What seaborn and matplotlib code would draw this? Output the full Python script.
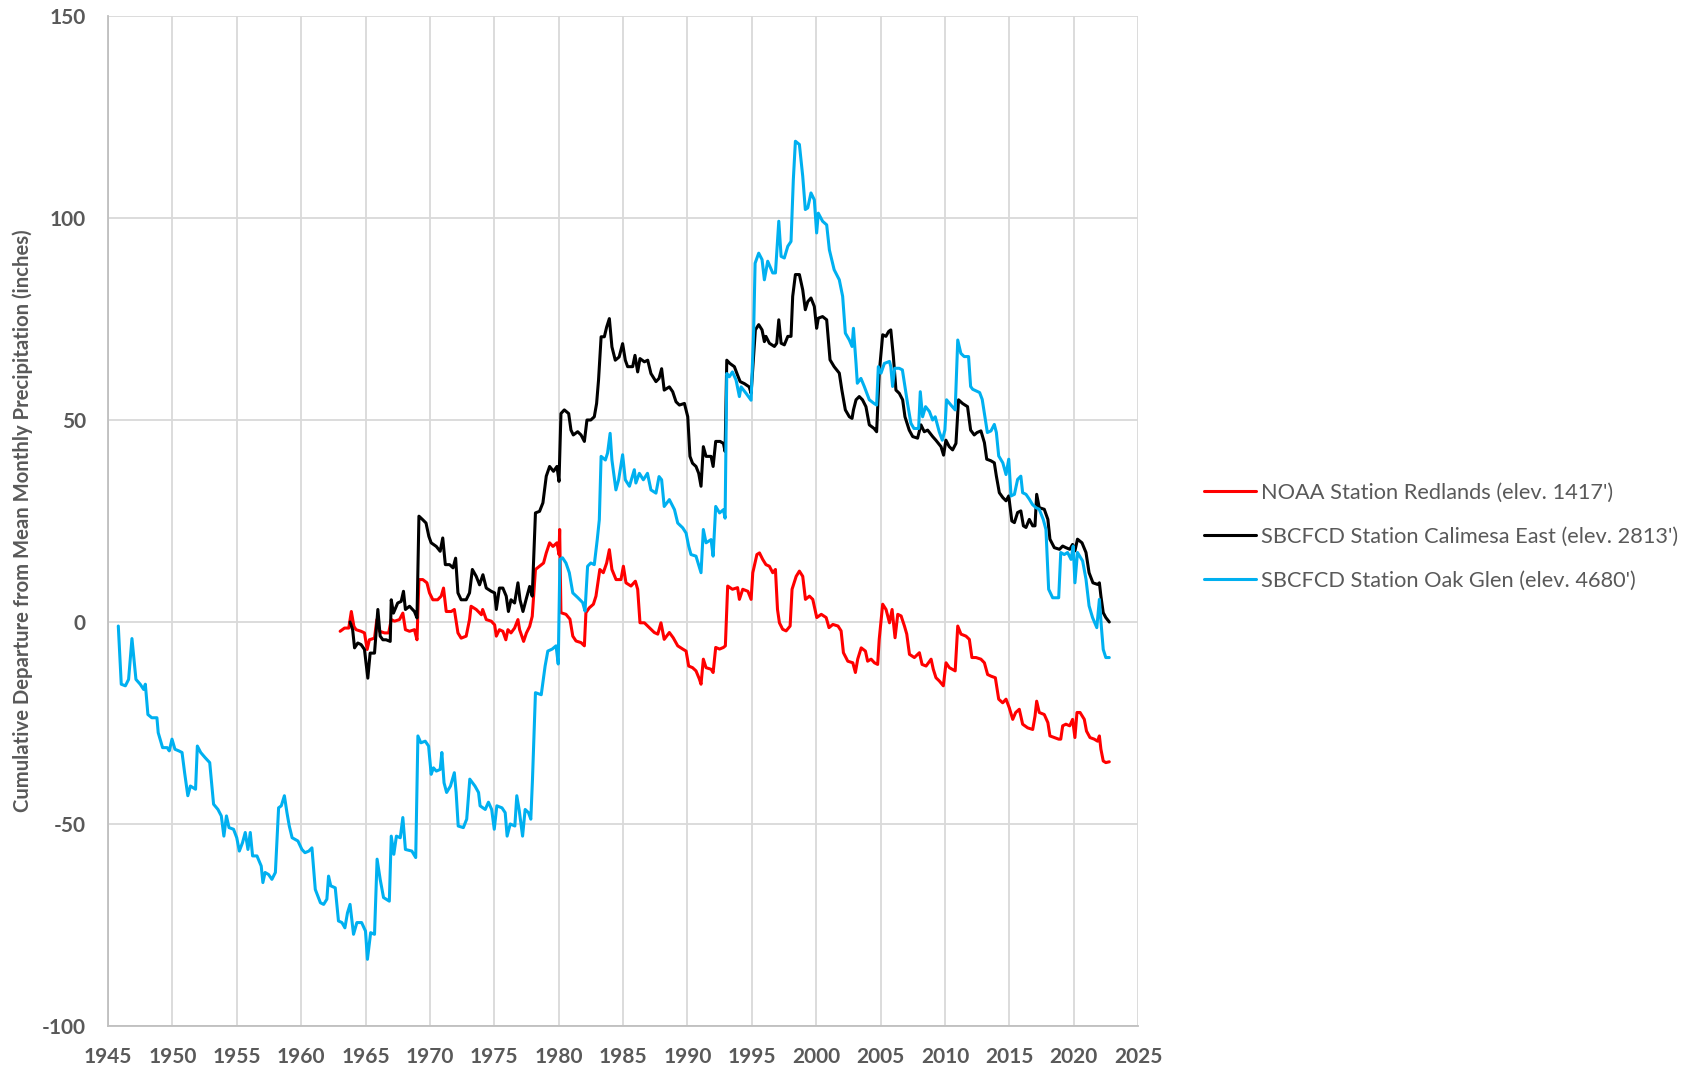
import matplotlib
matplotlib.use("Agg")
import matplotlib.pyplot as plt
import seaborn as sns
import pandas as pd
from matplotlib.ticker import MultipleLocator

# ---------------- data ----------------
redlands_year = [1963.03,1963.37,1963.7,1963.9,1964.1,1964.27,1964.66,1964.92,1965.13,1965.3,1965.7,1965.88,1966.09,1966.48,1966.8,1967.0,1967.25,1967.64,1967.9,1968.1,1968.42,1968.8,1969.0,1969.15,1969.45,1969.77,1969.97,1970.23,1970.6,1970.88,1971.06,1971.27,1971.66,1971.9,1972.18,1972.43,1972.82,1973.08,1973.2,1973.6,1974.0,1974.1,1974.38,1974.77,1975.03,1975.16,1975.4,1975.67,1975.9,1976.06,1976.3,1976.58,1976.84,1976.97,1977.28,1977.5,1977.75,1977.95,1978.2,1978.52,1978.83,1979.04,1979.3,1979.56,1979.87,1980.03,1980.08,1980.18,1980.57,1980.88,1981.1,1981.35,1981.74,1982.0,1982.12,1982.38,1982.7,1982.9,1983.2,1983.47,1983.73,1983.94,1984.14,1984.46,1984.84,1985.03,1985.23,1985.62,1985.96,1986.14,1986.32,1986.66,1987.05,1987.43,1987.7,1987.95,1988.2,1988.6,1988.9,1989.25,1989.64,1989.9,1990.1,1990.4,1990.67,1990.93,1991.06,1991.24,1991.45,1991.84,1992.0,1992.2,1992.5,1992.8,1992.95,1993.13,1993.5,1993.9,1994.04,1994.3,1994.7,1994.95,1995.08,1995.4,1995.6,1995.85,1996.1,1996.37,1996.63,1996.84,1997.0,1997.15,1997.4,1997.67,1997.98,1998.13,1998.45,1998.7,1998.96,1999.17,1999.48,1999.74,2000.05,2000.4,2000.78,2001.0,2001.3,2001.7,2001.94,2002.12,2002.46,2002.85,2003.05,2003.23,2003.5,2003.83,2004.0,2004.27,2004.53,2004.78,2004.9,2005.17,2005.43,2005.7,2005.9,2006.13,2006.34,2006.6,2006.86,2007.04,2007.25,2007.63,2008.02,2008.23,2008.54,2008.93,2009.1,2009.31,2009.57,2009.88,2010.09,2010.35,2010.8,2011.0,2011.25,2011.64,2011.9,2012.1,2012.42,2012.8,2013.07,2013.32,2013.58,2013.92,2014.18,2014.49,2014.75,2015.0,2015.27,2015.5,2015.78,2016.04,2016.43,2016.82,2017.0,2017.13,2017.33,2017.72,2018.0,2018.16,2018.5,2018.84,2019.0,2019.15,2019.4,2019.7,2019.92,2020.1,2020.26,2020.5,2020.83,2021.0,2021.27,2021.6,2021.86,2022.0,2022.12,2022.3,2022.5,2022.77]
redlands_val = [-2.3,-1.5,-1.5,2.6,-1.1,-1.9,-2.3,-2.7,-6.8,-4.4,-4,0.6,-2.3,-2.7,-2.7,0.6,0.2,0.6,2.2,-1.9,-2.3,-1.9,-4.4,10.5,10.5,9.7,7.2,5.5,5.5,6.4,8.4,2.6,2.6,3.1,-2.7,-4,-3.5,0.6,3.9,3.1,1.8,3.1,0.6,0.2,-0.7,-3.5,-1.9,-2.3,-4.4,-1.9,-2.7,-1.5,0.6,-1.9,-4.8,-2.7,-1.1,1.4,13,13.8,14.6,17.1,19.6,18.7,19.6,16.7,22.9,2.3,1.9,0.7,-3.5,-4.7,-5.1,-5.9,2.3,3.5,4.4,6.4,13,12.2,14.6,17.9,13,10.5,10.5,13.8,9.7,8.9,10.1,8.1,-0.2,-0.2,-1.4,-2.6,-3,-0.2,-4.3,-2.6,-3.9,-5.9,-6.7,-7.2,-10.9,-11.3,-12.1,-14.1,-15.4,-9.2,-11.3,-11.7,-12.5,-6.3,-6.7,-6.3,-5.9,8.9,8.1,8.5,5.6,8.1,7.6,5.6,12.2,16.7,17.1,15.5,14.2,13.8,12.2,13,3.1,-0.2,-1.8,-2.2,-1,8.1,11.3,12.6,11.3,5.6,6.4,5.6,1.1,1.9,1.1,-1.4,-0.6,-1,-2.2,-7.6,-9.7,-10.1,-12.5,-9.2,-6.4,-7.2,-9.7,-9.2,-10.1,-10.5,-4.3,4.4,3.1,-0.2,3.1,-3.9,1.9,1.5,-1,-3,-8,-8.8,-7.6,-10.5,-10.9,-9.2,-11.7,-13.8,-14.6,-15.8,-10.1,-11.3,-12.1,-1,-3,-3.5,-4.3,-8.8,-8.8,-9.2,-10.1,-13,-13.4,-13.8,-19.1,-20,-19.1,-21.2,-24.1,-22.4,-21.6,-25.3,-26.2,-26.6,-23.3,-19.6,-22.4,-22.9,-24.9,-28.2,-28.6,-29,-29,-25.7,-25.3,-25.7,-24.1,-28.6,-22.4,-22.4,-24.1,-27,-28.6,-29,-29.5,-28.2,-31.5,-34.4,-34.8,-34.6]

calimesa_year = [1963.8,1964.0,1964.15,1964.4,1964.66,1964.92,1965.18,1965.36,1965.7,1965.96,1966.14,1966.35,1966.6,1966.92,1967.0,1967.17,1967.5,1967.77,1967.95,1968.1,1968.42,1968.8,1969.0,1969.15,1969.45,1969.7,1969.92,1970.1,1970.5,1970.8,1971.0,1971.2,1971.53,1971.8,1972.0,1972.18,1972.43,1972.82,1973.08,1973.3,1973.6,1973.86,1974.12,1974.38,1974.77,1975.03,1975.16,1975.4,1975.67,1975.93,1976.1,1976.3,1976.58,1976.84,1977.0,1977.23,1977.5,1977.75,1977.95,1978.2,1978.52,1978.78,1979.04,1979.3,1979.6,1979.87,1980.03,1980.18,1980.44,1980.78,1980.96,1981.14,1981.48,1981.74,1982.0,1982.2,1982.5,1982.77,1982.95,1983.1,1983.3,1983.55,1983.73,1983.94,1984.14,1984.4,1984.7,1984.97,1985.18,1985.36,1985.75,1985.93,1986.14,1986.32,1986.66,1986.92,1987.17,1987.56,1987.8,1988.0,1988.2,1988.6,1988.86,1989.12,1989.38,1989.77,1990.03,1990.2,1990.4,1990.67,1990.88,1991.06,1991.24,1991.45,1991.84,1992.0,1992.2,1992.54,1992.8,1992.93,1993.06,1993.3,1993.65,1993.9,1994.1,1994.43,1994.8,1994.95,1995.15,1995.28,1995.54,1995.8,1995.98,1996.1,1996.37,1996.76,1996.94,1997.1,1997.28,1997.53,1997.8,1998.05,1998.18,1998.39,1998.7,1998.96,1999.16,1999.35,1999.6,1999.86,2000.04,2000.17,2000.5,2000.82,2001.08,2001.4,2001.8,2002.0,2002.27,2002.58,2002.79,2002.9,2003.1,2003.35,2003.6,2003.87,2004.13,2004.5,2004.7,2004.9,2005.17,2005.42,2005.63,2005.8,2006.0,2006.2,2006.46,2006.72,2006.9,2007.23,2007.5,2007.88,2008.14,2008.4,2008.66,2009.05,2009.3,2009.7,2009.9,2010.08,2010.34,2010.6,2010.86,2011.06,2011.37,2011.76,2012.0,2012.28,2012.5,2012.8,2013.07,2013.25,2013.58,2013.84,2014.0,2014.23,2014.5,2014.75,2014.96,2015.2,2015.4,2015.65,2015.9,2016.1,2016.3,2016.56,2016.82,2017.0,2017.13,2017.33,2017.72,2018.0,2018.16,2018.5,2018.9,2019.15,2019.4,2019.7,2019.92,2020.1,2020.3,2020.65,2020.96,2021.2,2021.5,2021.86,2022.0,2022.12,2022.3,2022.5,2022.77]
calimesa_val = [0,-1.9,-6.4,-5.2,-5.6,-6.8,-13.9,-7.7,-7.7,3.1,-3.5,-4.4,-4.4,-4.8,5.5,2.2,4.7,5.1,7.6,3.1,3.9,2.6,1,26.2,25.3,24.5,21.2,19.6,18.7,17.5,20.8,14.2,14.2,13.4,15.8,7.2,5.5,5.5,7.2,13,11.3,9.2,11.7,8.4,7.6,7.2,3.1,8.4,8.4,6.4,2.6,5.5,4.7,9.7,5.5,2.6,5.9,8.8,6.4,27,27.4,29.5,36.1,38.5,37.3,38.5,34.8,51.6,52.5,51.6,47.5,46.3,47.1,46.3,44.7,50,50,50.8,54.1,59.9,70.6,70.6,73,75.1,68.1,64.8,65.6,68.9,64.8,63.2,63.2,66,61.9,65.2,64.4,64.8,61.5,59.5,60.3,62.7,57.4,58.2,57,54.5,53.7,54.1,50.8,41,39.3,38.5,36.8,33.6,43.4,41,41,38.5,44.7,44.7,44.2,42.2,64.8,64,63.2,61.1,59.5,59,58.2,56.6,66,72.3,73.6,72.3,69.4,70.7,69,68.2,69,74.8,69,68.6,70.7,70.7,80.6,86,86,82.2,77.3,79.3,80.2,78.1,72.7,75.2,75.6,74.8,64.9,63.2,61.6,57.4,52.5,50.8,50.4,52.5,55,55.8,55,53.3,48.8,47.9,47.1,61.6,71.1,70.7,71.9,72.3,65.7,57.4,56.6,55,50.8,47.5,45.9,45.5,48.8,47.1,47.5,45.9,45,43.4,41.3,45,43.4,42.6,44.2,55,54.1,53.3,47.5,46.3,46.9,47.3,44.4,40.3,39.9,39.4,36.1,32,30.8,30,31.2,25,24.6,27.1,27.5,23.8,23.4,25.4,23.8,23.8,31.6,28.3,27.9,25.4,20.5,18.4,18,18.8,18.4,18,19.2,17.6,20.5,19.6,17.2,12.2,9.7,9.3,9.7,6.4,2.3,1.1,0]

oakglen_year = [1945.8,1946.03,1946.35,1946.6,1946.86,1947.17,1947.5,1947.77,1947.9,1948.1,1948.4,1948.8,1948.9,1949.24,1949.6,1949.76,1949.97,1950.2,1950.5,1950.75,1950.95,1951.2,1951.4,1951.8,1951.94,1952.2,1952.55,1952.9,1953.2,1953.54,1953.8,1954.0,1954.2,1954.4,1954.75,1955.0,1955.2,1955.45,1955.66,1955.87,1956.05,1956.23,1956.57,1956.9,1957.03,1957.2,1957.47,1957.73,1958.0,1958.25,1958.46,1958.7,1958.9,1959.08,1959.3,1959.75,1960.06,1960.3,1960.6,1960.84,1961.1,1961.5,1961.75,1962.0,1962.13,1962.3,1962.65,1962.9,1963.17,1963.4,1963.6,1963.8,1964.07,1964.33,1964.7,1965.0,1965.15,1965.4,1965.7,1965.9,1966.14,1966.4,1966.85,1967.0,1967.2,1967.4,1967.7,1967.9,1968.1,1968.6,1968.9,1969.07,1969.3,1969.64,1969.9,1970.1,1970.28,1970.5,1970.8,1970.93,1971.1,1971.3,1971.6,1971.9,1972.04,1972.2,1972.6,1972.86,1973.1,1973.5,1973.78,1973.9,1974.3,1974.55,1974.8,1975.0,1975.2,1975.6,1975.85,1976.0,1976.24,1976.6,1976.75,1976.93,1977.2,1977.4,1977.66,1977.84,1977.97,1978.2,1978.65,1978.95,1979.16,1979.5,1979.8,1979.97,1980.1,1980.3,1980.57,1980.83,1981.1,1981.5,1981.87,1982.05,1982.25,1982.5,1982.77,1983.0,1983.16,1983.3,1983.63,1983.8,1984.0,1984.14,1984.45,1984.66,1984.97,1985.18,1985.5,1985.88,1986.0,1986.27,1986.58,1986.9,1987.17,1987.56,1987.8,1988.0,1988.2,1988.6,1989.0,1989.25,1989.64,1989.9,1990.1,1990.28,1990.67,1991.06,1991.24,1991.45,1991.84,1992.0,1992.2,1992.5,1992.8,1992.93,1993.06,1993.26,1993.5,1993.78,1994.04,1994.17,1994.56,1994.95,1995.15,1995.26,1995.54,1995.8,1995.98,1996.24,1996.63,1996.84,1997.1,1997.28,1997.53,1997.8,1998.05,1998.23,1998.39,1998.7,1998.96,1999.16,1999.35,1999.6,1999.86,2000.04,2000.17,2000.5,2000.82,2001.03,2001.4,2001.8,2002.06,2002.27,2002.58,2002.79,2002.9,2003.1,2003.2,2003.48,2003.74,2004.13,2004.5,2004.7,2004.83,2005.04,2005.3,2005.7,2005.8,2005.94,2006.1,2006.45,2006.7,2006.9,2007.1,2007.36,2007.6,2007.96,2008.09,2008.27,2008.5,2008.8,2009.05,2009.25,2009.56,2009.8,2010.0,2010.13,2010.47,2010.8,2011.0,2011.24,2011.5,2011.84,2012.0,2012.16,2012.7,2012.9,2013.1,2013.3,2013.58,2013.84,2014.0,2014.18,2014.5,2014.75,2014.96,2015.14,2015.4,2015.65,2015.9,2016.04,2016.3,2016.56,2016.8,2017.07,2017.33,2017.64,2017.85,2018.06,2018.37,2018.84,2019.0,2019.27,2019.53,2019.8,2019.97,2020.1,2020.3,2020.7,2020.96,2021.2,2021.47,2021.8,2022.0,2022.15,2022.3,2022.5,2022.77]
oakglen_val = [-1,-15.4,-15.8,-14.2,-4.1,-14.2,-15.4,-16.7,-15.4,-22.9,-23.7,-23.7,-27.4,-31.1,-31.1,-31.9,-29,-31.5,-31.9,-32.3,-37.3,-43,-40.6,-41.4,-30.7,-32.3,-33.6,-34.8,-45.1,-46.4,-48,-53,-48,-50.9,-51.3,-53.4,-56.7,-54.6,-52.1,-56.3,-52.1,-57.9,-57.9,-60.4,-64.5,-62,-62.5,-63.7,-62,-46,-45.5,-43,-47.2,-50.5,-53.4,-54.2,-56.3,-57.1,-56.7,-55.9,-66.2,-69.5,-69.9,-68.6,-62.9,-65.3,-65.8,-74,-74.4,-75.7,-72,-69.9,-77.3,-74.4,-74.4,-76.5,-83.5,-76.9,-77.3,-58.7,-63.7,-68.2,-69.1,-53,-57.5,-53,-53.4,-48.4,-56.3,-56.7,-58.3,-28.2,-29.9,-29.5,-30.7,-37.7,-36.1,-36.9,-36.5,-32.3,-39.8,-42.2,-40.6,-37.3,-42.2,-50.5,-50.9,-48.8,-38.9,-40.6,-42.2,-45.5,-46.4,-44.6,-46.4,-51.3,-45.5,-46,-47.2,-53,-50,-50.5,-43,-46.4,-53,-46.4,-47.2,-48.8,-38.9,-17.5,-18,-10.9,-7.2,-6.7,-5.9,-10.4,15.5,15.9,14.6,12.2,7.2,6,4.8,2.7,13.8,14.6,14.2,20.4,25.3,41,40.1,41.8,46.7,40.1,32.7,35.2,41.4,35.2,33.6,37.7,34.4,36.8,35.2,36.8,32.7,31.9,36,35.2,28.6,30.3,27.8,24.5,23.3,22,18.8,16.7,16.3,12.2,22.9,19.6,20.4,16.3,28.6,27,27.8,25.7,61.5,60.7,61.9,59.9,55.8,58.2,56.6,54.9,72.3,88.8,91.3,89.7,84.7,89.3,86.4,86.4,99.2,90.5,90.1,93,94.2,109.5,119,118.2,110.3,102.1,102.5,106.2,104.5,96.3,101.2,99.2,98.3,92.1,87.2,84.7,80.6,71.5,69.8,68.2,72.7,64,59.1,60.3,58.3,55,54.1,53.7,63.2,61.6,64,64.5,63.2,58.3,62.8,62.8,62.4,58.3,54.1,49.2,47.9,47.9,57,50.8,53.3,52.1,50,50.8,47.1,45,47.5,55,53.7,52.5,69.8,66.5,65.7,65.7,58.3,57.6,56.8,55.1,51,46.9,47.3,48.9,46.9,41.1,39.4,36.5,40.3,31.2,31.6,35.3,36.1,32,31.6,30.4,29.1,28.3,27.9,25.4,22.9,8.1,6,6,17.2,16.7,17.2,15.5,18.8,9.7,17.2,15.1,10.6,4,1.1,-1.4,5.6,-1,-6.8,-8.8,-8.8]

series_names = ["NOAA Station Redlands (elev. 1417')",
                "SBCFCD Station Calimesa East (elev. 2813')",
                "SBCFCD Station Oak Glen (elev. 4680')"]
series_colors = ["#FF0000", "#000000", "#00B0F0"]

x_ticks = list(range(1945, 2026, 5))
y_ticks = [-100, -50, 0, 50, 100, 150]
y_label = "Cumulative Departure from Mean Monthly Precipitation (inches)"

# ---------------- build long table ----------------
frames = []
for name, yrs, vals in zip(series_names,
                           [redlands_year, calimesa_year, oakglen_year],
                           [redlands_val, calimesa_val, oakglen_val]):
    frames.append(pd.DataFrame({"Year": yrs, "Value": vals, "Station": name}))
df = pd.concat(frames, ignore_index=True)

# ---------------- style ----------------
sns.set_style("white")
plt.rcParams["font.family"] = ["Lato", "DejaVu Sans"]
plt.rcParams["axes.unicode_minus"] = False

GRID = "#D9D9D9"
TXT = "#595959"

fig = plt.figure(figsize=(16.9, 10.72), dpi=100)
ax = fig.add_axes([108 / 1690, 1 - 1026 / 1072, (1138 - 108) / 1690, (1026 - 16) / 1072])

sns.lineplot(data=df, x="Year", y="Value", hue="Station",
             hue_order=series_names, palette=series_colors,
             estimator=None, sort=False, linewidth=2.2, ax=ax)

ax.set_xlim(1945, 2025)
ax.set_ylim(-100, 150)
ax.set_xticks(x_ticks)
ax.set_yticks(y_ticks)
ax.xaxis.set_minor_locator(MultipleLocator(1))
ax.yaxis.set_minor_locator(MultipleLocator(10))

ax.grid(True, which="major", color=GRID, linewidth=1.3, zorder=0)
ax.set_axisbelow(True)
for s in ["top", "right"]:
    ax.spines[s].set_visible(False)
for s in ["left", "bottom"]:
    ax.spines[s].set_color("#BFBFBF")
    ax.spines[s].set_linewidth(1.3)

ax.tick_params(axis="both", which="major", direction="out", length=5,
               width=1.3, color="#BFBFBF", labelcolor=TXT, labelsize=15)
ax.tick_params(axis="both", which="minor", direction="out", length=3.6,
               width=1.3, color="#BFBFBF")
ax.tick_params(axis="y", which="major", pad=11)
ax.tick_params(axis="x", which="major", pad=10)
for lab in ax.get_xticklabels() + ax.get_yticklabels():
    lab.set_fontweight("bold")

ax.set_xlabel("")
ax.set_ylabel(y_label, fontsize=14.6, fontweight="bold", color=TXT)
ax.yaxis.set_label_coords(-0.073, 0.5)

handles, labels = ax.get_legend_handles_labels()
ax.legend(handles, labels, loc="center left", bbox_to_anchor=(1204 / 1690, 0.499),
          bbox_transform=fig.transFigure, frameon=False, fontsize=15.7,
          handlelength=2.4, handletextpad=0.22, labelspacing=1.1,
          borderpad=0, borderaxespad=0, labelcolor=TXT)

fig.savefig("out.png", dpi=100)
